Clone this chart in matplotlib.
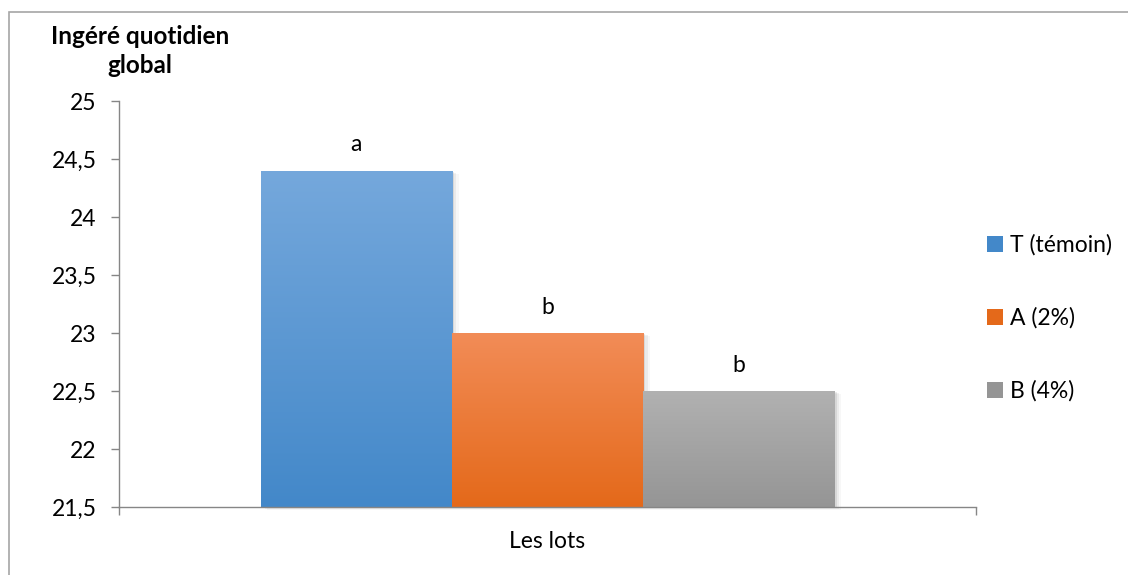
import numpy as np
import matplotlib.pyplot as plt
from matplotlib.colors import LinearSegmentedColormap
from matplotlib.patches import Rectangle, Patch
from matplotlib.ticker import FuncFormatter

plt.rcParams['font.family'] = ['Lato', 'DejaVu Sans']

# data
lots = ["T (témoin)", "A (2%)", "B (4%)"]
ingere = [24.4, 23.0, 22.5]
groupes = ["a", "b", "b"]
couleurs_haut = ["#75a8dc", "#f28c57", "#b1b1b1"]
couleurs_bas = ["#4388c9", "#e4691a", "#959595"]

fig = plt.figure(figsize=(11.28, 5.75), dpi=100)
ax = fig.add_axes([119 / 1128, 1 - 507 / 575, 857 / 1128, 406 / 575])

x = np.arange(len(lots)) - 1
bars = ax.bar(x, [v - 21.5 for v in ingere], bottom=21.5, width=1.0, color='none')

# gradient fill + soft shadow for each bar
grad = np.linspace(0, 1, 256).reshape(-1, 1)
for bar, top, bot in zip(bars, couleurs_haut, couleurs_bas):
    x0, y0 = bar.get_x(), bar.get_y()
    w, h = bar.get_width(), bar.get_height()
    for k, a in enumerate([0.10, 0.07, 0.04]):
        ax.add_patch(Rectangle((x0 + 0.012 * (k + 1), y0 - 0.01 * (k + 1)), w, h,
                               facecolor='#404040', edgecolor='none', alpha=a,
                               zorder=1, clip_on=False))
    cmap = LinearSegmentedColormap.from_list('g', [bot, top])
    im = ax.imshow(grad, cmap=cmap, extent=(x0, x0 + w, y0, y0 + h),
                   origin='lower', aspect='auto', zorder=2)
    im.set_clip_path(bar)

ax.set_xlim(-2.24, 2.24)
ax.set_ylim(21.5, 25)

for xi, v, g in zip(x, ingere, groupes):
    ax.annotate(g, (xi, v), xytext=(0, 11), textcoords='offset points',
                ha='center', va='bottom', fontsize=16.5, color='black')

ax.set_yticks(np.arange(21.5, 25.01, 0.5))
ax.yaxis.set_major_formatter(FuncFormatter(lambda v, p: f"{v:g}".replace('.', ',')))
ax.tick_params(axis='y', direction='out', length=6, width=1, color='#868686',
               labelsize=16.5, pad=10)

ax.set_xticks([0])
ax.set_xticklabels(["Les lots"])
ax.set_xticks([-2.24, 2.24], minor=True)
ax.tick_params(axis='x', which='major', length=0, labelsize=16.5, pad=17)
ax.tick_params(axis='x', which='minor', direction='out', length=6, width=1, color='#868686')

for s in ['top', 'right']:
    ax.spines[s].set_visible(False)
for s in ['left', 'bottom']:
    ax.spines[s].set_color('#868686')
    ax.spines[s].set_linewidth(1)
    ax.spines[s].set_zorder(3)

fig.text(140 / 1128, 1 - 51 / 575, "Ingéré quotidien\nglobal", ha='center', va='center',
         fontsize=17.5, fontweight='bold', linespacing=1.3)

handles = [Patch(facecolor=c) for c in couleurs_bas]
fig.legend(handles, lots, loc='center left', bbox_to_anchor=(966 / 1128, 1 - 318 / 575),
           frameon=False, fontsize=16.5, handlelength=0.7, handleheight=0.7,
           handletextpad=0.3, labelspacing=2.25)

fig.patches.append(Rectangle((9 / 1128, -0.1), 1.2, 1.1 - 12 / 575, transform=fig.transFigure,
                             fill=False, edgecolor='#a6a6a6', linewidth=1.2))

fig.savefig("out.png", dpi=100)
